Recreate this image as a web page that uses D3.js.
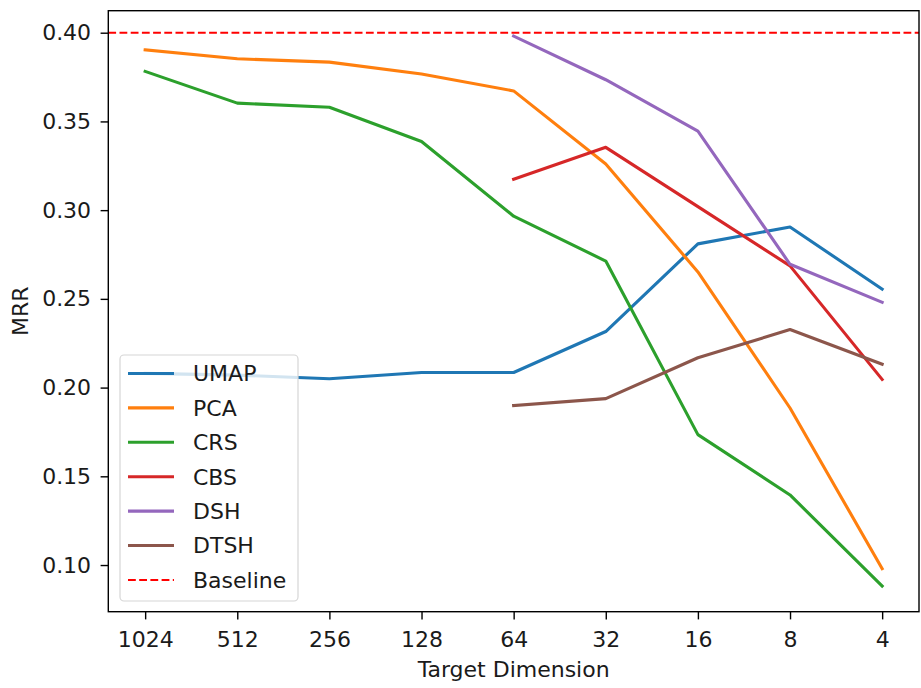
<!DOCTYPE html>
<html>
<head>
<meta charset="utf-8">
<script src="https://cdn.jsdelivr.net/npm/d3@7"></script>
<style>
  body { margin: 0; background: #fff; }
  svg { display: block; font-family: "DejaVu Sans", sans-serif; }
</style>
</head>
<body>
<svg id="chart" width="921" height="688"></svg>
<script>
const categories = ["1024", "512", "256", "128", "64", "32", "16", "8", "4"];
const umap = [0.208, 0.207, 0.205, 0.2085, 0.2085, 0.2316, 0.2810, 0.2905, 0.2555];
const pca  = [0.3903, 0.3853, 0.3834, 0.3767, 0.3672, 0.3260, 0.2652, 0.1885, 0.0980];
const crs  = [0.3782, 0.3603, 0.3580, 0.3387, 0.2966, 0.2713, 0.1735, 0.1395, 0.0882];
const cbs  = [null, null, null, null, 0.3174, 0.3354, 0.3020, 0.2686, 0.2046];
const dsh  = [null, null, null, null, 0.3981, 0.3735, 0.3445, 0.2695, 0.2481];
const dtsh = [null, null, null, null, 0.1899, 0.1938, 0.2168, 0.2327, 0.2132];
const baseline = 0.40;
const yTicks = [0.10, 0.15, 0.20, 0.25, 0.30, 0.35, 0.40];
const seriesNames = ["UMAP", "PCA", "CRS", "CBS", "DSH", "DTSH"];
const seriesValues = [umap, pca, crs, cbs, dsh, dtsh];
const colors = ["#1f77b4", "#ff7f0e", "#2ca02c", "#d62728", "#9467bd", "#8c564b"];

const svg = d3.select("#chart");
const L = 108.3, T = 10.7, R = 919, B = 611.7;
const FS = "22px";

const x = d3.scalePoint().domain(categories).range([L, R]).padding(0.4);
const y = d3.scaleLinear().domain([0.0737, 0.4124]).range([B, T]);

const g = svg.append("g");

// lines
const line = d3.line()
  .defined(d => d.v !== null)
  .x(d => x(d.c))
  .y(d => y(d.v));

seriesValues.forEach((vals, i) => {
  const data = categories.map((c, j) => ({c, v: vals[j]}));
  g.append("path")
    .datum(data)
    .attr("fill", "none")
    .attr("stroke", colors[i])
    .attr("stroke-width", 3.1)
    .attr("stroke-linejoin", "round")
    .attr("stroke-linecap", "square")
    .attr("d", line);
});

// baseline
g.append("line")
  .attr("x1", L).attr("x2", R)
  .attr("y1", y(baseline)).attr("y2", y(baseline))
  .attr("stroke", "#ff0000")
  .attr("stroke-width", 2)
  .attr("stroke-dasharray", "7.8,3.4");

// axes
const xAxis = d3.axisBottom(x).tickSizeInner(7.7).tickSizeOuter(0).tickPadding(7.7);
const yAxis = d3.axisLeft(y).tickValues(yTicks).tickFormat(d3.format(".2f")).tickSizeInner(7.7).tickSizeOuter(0).tickPadding(9.5);

const gx = svg.append("g").attr("transform", `translate(0,${B})`).call(xAxis);
const gy = svg.append("g").attr("transform", `translate(${L},0)`).call(yAxis);
[gx, gy].forEach(ax => {
  ax.select(".domain").remove();
  ax.selectAll(".tick line").attr("stroke", "#000").attr("stroke-width", 1.4);
  ax.selectAll(".tick text").attr("fill", "#1a1a1a").style("font-size", FS).style("font-family", "DejaVu Sans, sans-serif");
});
gx.selectAll(".tick text").attr("y", 35.3).attr("dy", 0);

// frame
svg.append("rect")
  .attr("x", L).attr("y", T)
  .attr("width", R - L).attr("height", B - T)
  .attr("fill", "none").attr("stroke", "#000").attr("stroke-width", 1.4);

// axis labels
svg.append("text")
  .attr("x", (L + R) / 2).attr("y", 677)
  .attr("text-anchor", "middle")
  .attr("fill", "#1a1a1a")
  .style("font-size", FS)
  .text("Target Dimension");
svg.append("text")
  .attr("transform", `translate(28,${(T + B) / 2}) rotate(-90)`)
  .attr("text-anchor", "middle")
  .attr("fill", "#1a1a1a")
  .style("font-size", FS)
  .text("MRR");

// legend
const legendNames = seriesNames.concat(["Baseline"]);
const legendColors = colors.concat(["#ff0000"]);
const lg = svg.append("g");
lg.append("rect")
  .attr("x", 120).attr("y", 355)
  .attr("width", 178).attr("height", 246)
  .attr("rx", 4).attr("ry", 4)
  .attr("fill", "#fff").attr("fill-opacity", 0.8)
  .attr("stroke", "#d6d6d6").attr("stroke-width", 1.2);
legendNames.forEach((n, i) => {
  const yy = 373.5 + i * 34.4;
  lg.append("line")
    .attr("x1", 128).attr("x2", 174)
    .attr("y1", yy).attr("y2", yy)
    .attr("stroke", legendColors[i])
    .attr("stroke-width", i === 6 ? 2 : 3.1)
    .attr("stroke-dasharray", i === 6 ? "7.8,3.4" : null);
  lg.append("text")
    .attr("x", 193).attr("y", yy)
    .attr("dy", "0.36em")
    .attr("fill", "#1a1a1a")
    .style("font-size", FS)
    .text(n);
});
</script>
</body>
</html>
